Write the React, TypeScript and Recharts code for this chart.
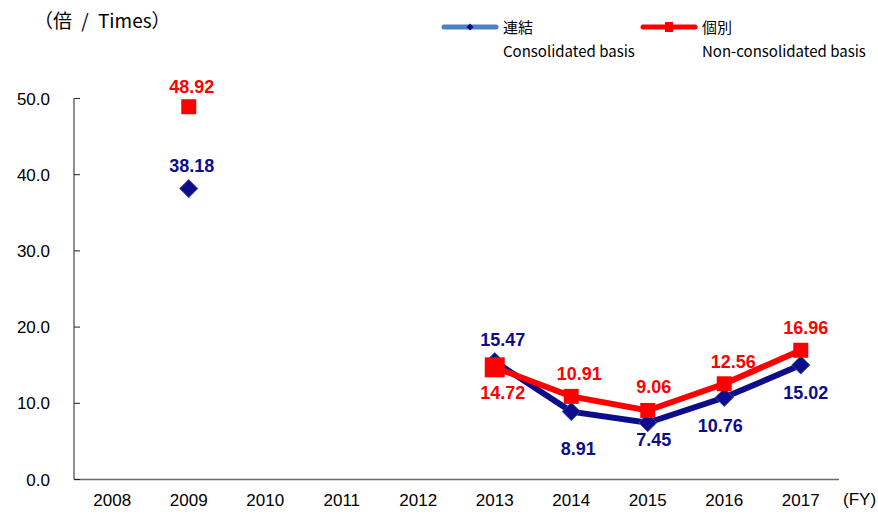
import React from "react";
import { ComposedChart, Line, XAxis, YAxis, LabelList } from "recharts";

const years = ["2008", "2009", "2010", "2011", "2012", "2013", "2014", "2015", "2016", "2017"];
const consolidated = [null, 38.18, null, null, null, 15.47, 8.91, 7.45, 10.76, 15.02];
const nonConsolidated = [null, 48.92, null, null, null, 14.72, 10.91, 9.06, 12.56, 16.96];
const yTicks = [0, 10, 20, 30, 40, 50];
const seriesNames = ["連結", "個別"];
const seriesNamesEn = ["Consolidated basis", "Non-consolidated basis"];

const data = years.map((fy, i) => ({
  fy,
  consolidated: consolidated[i],
  nonConsolidated: nonConsolidated[i],
}));

const NAVY = "#0d0d8c";
const RED = "#ff0000";
const AXIS = "#6a6a6a";
const FONT = "'Liberation Sans', Arial, sans-serif";
const JP = "'Noto Sans CJK JP', 'Noto Sans', sans-serif";

// label placement per point: [dx, dy] from the marker centre
const consLabelPos: Record<number, [number, number]> = {
  1: [3, -23], 5: [8, -22], 6: [7, 37], 7: [6, 17], 8: [-4, 28], 9: [5, 28],
};
const nonConsLabelPos: Record<number, [number, number]> = {
  1: [3, -20], 5: [8, 26], 6: [8, -22], 7: [6, -23], 8: [9, -22], 9: [5, -22],
};

const makeLabel = (pos: Record<number, [number, number]>, color: string) => (props: any) => {
  const { x, y, value, index } = props;
  if (value == null || x == null || y == null || !pos[index]) return null;
  const [dx, dy] = pos[index];
  return (
    <text
      x={x + dx}
      y={y + dy}
      textAnchor="middle"
      dominantBaseline="central"
      fill={color}
      fontFamily={FONT}
      fontWeight="bold"
      fontSize={18}
    >
      {Number(value).toFixed(2)}
    </text>
  );
};

const Diamond = (props: any) => {
  const { cx, cy, value, index } = props;
  if (value == null || cx == null || cy == null) return <g key={`d${index}`} />;
  const r = 9;
  return (
    <polygon
      key={`d${index}`}
      points={`${cx},${cy - r} ${cx + r},${cy} ${cx},${cy + r} ${cx - r},${cy}`}
      fill={NAVY}
      stroke="#2b4c9e"
      strokeWidth={1}
    />
  );
};

const Square = (props: any) => {
  const { cx, cy, value, index } = props;
  if (value == null || cx == null || cy == null) return <g key={`s${index}`} />;
  const s = index === 5 ? 20 : 15;
  return <rect key={`s${index}`} x={cx - s / 2} y={cy - s / 2} width={s} height={s} fill={RED} />;
};

const LegendItem = ({ left, color, marker, name, en }: any) => (
  <div style={{ position: "absolute", left, top: 14 }}>
    <svg width={58} height={26} style={{ position: "absolute", left: 0, top: 0 }}>
      <line x1={3} y1={13} x2={55} y2={13} stroke={color} strokeWidth={5} strokeLinecap="round" />
      {marker}
    </svg>
    <div style={{ position: "absolute", left: 62, top: 2, fontFamily: JP, fontSize: 15, lineHeight: "22px", whiteSpace: "nowrap", color: "#000" }}>
      {name}
    </div>
    <div style={{ position: "absolute", left: 62, top: 26, fontFamily: JP, fontSize: 15, lineHeight: "22px", whiteSpace: "nowrap", color: "#000" }}>
      {en}
    </div>
  </div>
);

export default function App() {
  return (
    <div style={{ position: "absolute", left: 0, top: 0, width: 878, height: 516, background: "#fff" }}>
      <div style={{ position: "absolute", left: 34, top: 6, fontFamily: JP, fontSize: 19, lineHeight: "28px", whiteSpace: "nowrap", wordSpacing: 5 }}>
        （倍 / Times）
      </div>
      <LegendItem
        left={441}
        color="#4f81bd"
        name={seriesNames[0]}
        en={seriesNamesEn[0]}
        marker={<polygon points="29,9.5 32.5,13 29,16.5 25.5,13" fill={NAVY} />}
      />
      <LegendItem
        left={640}
        color={RED}
        name={seriesNames[1]}
        en={seriesNamesEn[1]}
        marker={<rect x={25} y={8} width={8} height={10} fill={RED} />}
      />
      <div style={{ position: "absolute", left: 843, top: 489, fontFamily: FONT, fontSize: 17, lineHeight: "22px", whiteSpace: "nowrap" }}>
        (FY)
      </div>
      <ComposedChart
        width={878}
        height={516}
        data={data}
        margin={{ top: 98.5, right: 39, bottom: 5.5, left: 0 }}
      >
        <XAxis
          xAxisId={0}
          type="number"
          domain={[0, 10]}
          ticks={[1, 2, 3, 4, 5, 6, 7, 8, 9, 10]}
          allowDataOverflow
          height={1}
          tick={false}
          tickSize={-6}
          axisLine={{ stroke: AXIS, strokeWidth: 1.5 }}
          tickLine={{ stroke: "#222", strokeWidth: 1 }}
        />
        <XAxis
          xAxisId="cat"
          dataKey="fy"
          type="category"
          scale="band"
          height={30}
          axisLine={false}
          tickLine={false}
          tickSize={6}
          tickMargin={7}
          interval={0}
          tick={{ fill: "#000", fontSize: 17, fontFamily: FONT }}
        />
        <YAxis
          domain={[0, 50]}
          ticks={yTicks}
          width={74}
          interval={0}
          tickSize={-6}
          tickMargin={30}
          tickFormatter={(v: number) => v.toFixed(1)}
          axisLine={{ stroke: AXIS, strokeWidth: 1.5 }}
          tickLine={{ stroke: "#222", strokeWidth: 1 }}
          tick={{ fill: "#000", fontSize: 17, fontFamily: FONT }}
        />
        <Line
          xAxisId="cat"
          dataKey="consolidated"
          name={seriesNames[0]}
          stroke={NAVY}
          strokeWidth={6}
          dot={Diamond}
          activeDot={false}
          isAnimationActive={false}
        >
          <LabelList dataKey="consolidated" content={makeLabel(consLabelPos, NAVY)} />
        </Line>
        <Line
          xAxisId="cat"
          dataKey="nonConsolidated"
          name={seriesNames[1]}
          stroke={RED}
          strokeWidth={6}
          dot={Square}
          activeDot={false}
          isAnimationActive={false}
        >
          <LabelList dataKey="nonConsolidated" content={makeLabel(nonConsLabelPos, RED)} />
        </Line>
      </ComposedChart>
    </div>
  );
}
